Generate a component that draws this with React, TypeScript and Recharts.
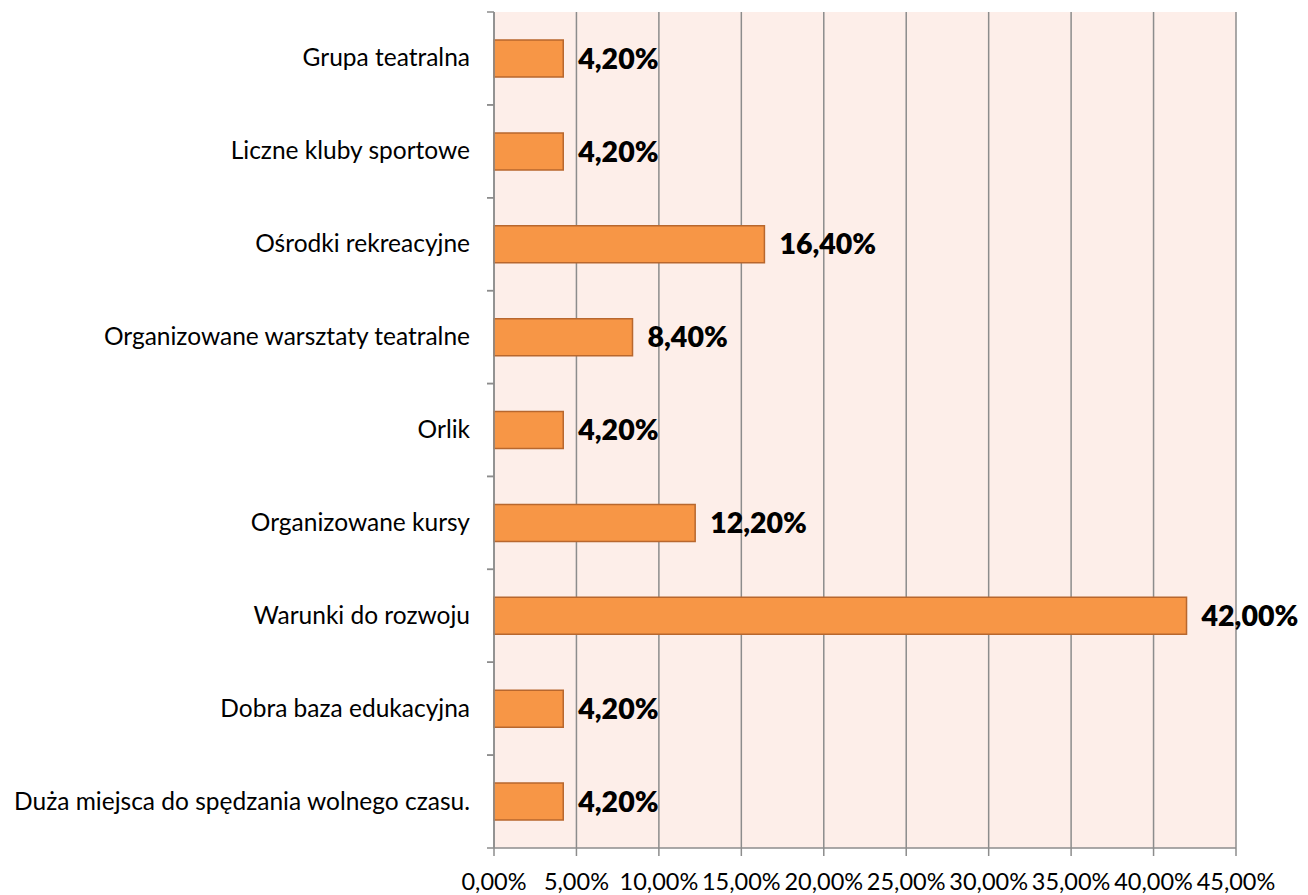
import { BarChart, Bar, XAxis, YAxis, CartesianGrid, LabelList } from "recharts";

const categories = [
  "Grupa teatralna",
  "Liczne kluby sportowe",
  "Ośrodki rekreacyjne",
  "Organizowane warsztaty teatralne",
  "Orlik",
  "Organizowane kursy",
  "Warunki do rozwoju",
  "Dobra baza edukacyjna",
  "Duża miejsca do spędzania wolnego czasu.",
];
const values = [4.2, 4.2, 16.4, 8.4, 4.2, 12.2, 42.0, 4.2, 4.2];
const xTicks = [0, 5, 10, 15, 20, 25, 30, 35, 40, 45];

const data = categories.map((name, i) => ({ name, value: values[i] }));

const fmt = (v: number) => `${v.toFixed(2).replace(".", ",")}%`;
const FONT = "Lato, 'Open Sans', sans-serif";
const AXIS = "#8c8c8c";

const CHART_H = 887;
const MARGIN_TOP = 4;
const X_AXIS_H = 47;
const band = (CHART_H - MARGIN_TOP - X_AXIS_H) / categories.length;

function CategoryTick(props: any) {
  const { x, y, payload } = props;
  return (
    <g>
      <line x1={x + 1} x2={x + 8} y1={y - band / 2} y2={y - band / 2} stroke={AXIS} strokeWidth={1.5} />
      <line x1={x + 1} x2={x + 8} y1={y + band / 2} y2={y + band / 2} stroke={AXIS} strokeWidth={1.5} />
      <text x={x - 16} y={y} dy={8} textAnchor="end" fontSize={24.5} fontFamily={FONT} fill="#000">
        {payload.value}
      </text>
    </g>
  );
}

export default function App() {
  return (
    <div style={{ width: 1300, height: CHART_H }}>
      <BarChart
        width={1300}
        height={CHART_H}
        data={data}
        layout="vertical"
        margin={{ top: MARGIN_TOP, right: 72, bottom: 0, left: 0 }}
      >
        <CartesianGrid horizontal={false} stroke={AXIS} strokeWidth={1.5} fill="#fdeee9" />
        <XAxis
          type="number"
          domain={[0, 45]}
          ticks={xTicks}
          tickFormatter={fmt}
          height={X_AXIS_H}
          stroke={AXIS}
          strokeWidth={1.5}
          tickSize={8}
          tickMargin={17}
          tick={{ fill: "#000", fontSize: 23.5, fontFamily: FONT }}
          interval={0}
        />
        <YAxis
          type="category"
          dataKey="name"
          width={486}
          stroke={AXIS}
          strokeWidth={1.5}
          tickLine={false}
          tick={<CategoryTick />}
          interval={0}
        />
        <Bar dataKey="value" fill="#f79646" stroke="#b8672e" strokeWidth={1.5} barSize={37} isAnimationActive={false}>
          <LabelList
            dataKey="value"
            position="right"
            offset={15}
            formatter={(v: any) => fmt(Number(v))}
            style={{ fill: "#000", fontSize: 28.5, fontWeight: 800, fontFamily: FONT }}
          />
        </Bar>
      </BarChart>
    </div>
  );
}
